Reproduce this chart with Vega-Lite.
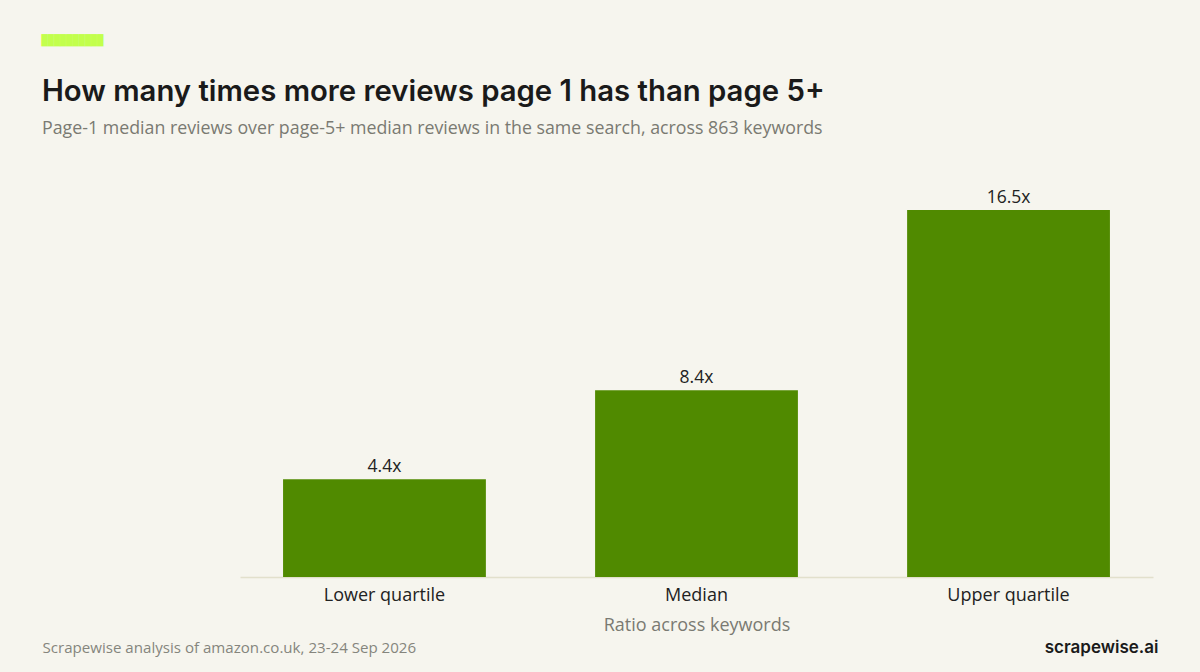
{
  "$schema": "https://vega.github.io/schema/vega-lite/v6.json",
  "description": "Ratio of page-1 to page-5+ median reviews across keywords.",
  "autosize": "none",
  "width": 913,
  "height": 407,
  "padding": {"left": 240, "top": 170, "right": 47, "bottom": 95},
  "background": "#f6f5ee",
  "title": {
    "text": "How many times more reviews page 1 has than page 5+",
    "subtitle": "Page-1 median reviews over page-5+ median reviews in the same search, across 863 keywords",
    "anchor": "start",
    "frame": "group",
    "dx": -198,
    "offset": -103,
    "font": "Inter",
    "fontSize": 29.3,
    "fontWeight": 600,
    "color": "#1a1a1a",
    "subtitleFont": "Open Sans",
    "subtitleFontSize": 17.8,
    "subtitleColor": "#7a7a72",
    "subtitlePadding": 13
  },
  "data": {
    "values": [
      {"stat": "Lower quartile", "ratio": 4.4, "label": "4.4x"},
      {"stat": "Median", "ratio": 8.4, "label": "8.4x"},
      {"stat": "Upper quartile", "ratio": 16.5, "label": "16.5x"}
    ]
  },
  "encoding": {
    "x": {
      "field": "stat",
      "type": "nominal",
      "sort": null,
      "scale": {"paddingInner": 0.35, "paddingOuter": 0.138}
    },
    "y": {
      "field": "ratio",
      "type": "quantitative",
      "scale": {"domain": [0, 18.3], "nice": false}
    }
  },
  "layer": [
    {
      "mark": {"type": "bar", "color": "#508a00"},
      "encoding": {
        "x": {
          "field": "stat",
          "type": "nominal",
          "sort": null,
          "axis": {
            "orient": "bottom",
            "title": "Ratio across keywords",
            "labelAngle": 0,
            "labelFont": "Open Sans",
            "labelFontSize": 18,
            "labelColor": "#222222",
            "labelPadding": 9,
            "ticks": false,
            "domainColor": "#e2e0cc",
            "domainWidth": 1.5,
            "titleFont": "Open Sans",
            "titleFontSize": 18,
            "titleFontWeight": "normal",
            "titleColor": "#7a7a72",
            "titlePadding": 12
          }
        },
        "y": {
          "field": "ratio",
          "type": "quantitative",
          "axis": {
            "orient": "left",
            "labels": false,
            "ticks": false,
            "domain": false,
            "grid": false,
            "title": "Scrapewise analysis of amazon.co.uk, 23-24 Sep 2026",
            "titleAngle": 0,
            "titleAlign": "left",
            "titleBaseline": "alphabetic",
            "titleX": -198,
            "titleY": 482,
            "titleFont": "Open Sans",
            "titleFontSize": 15.1,
            "titleFontWeight": "normal",
            "titleColor": "#85857d"
          }
        }
      }
    },
    {
      "mark": {"type": "text", "baseline": "bottom", "dy": -3, "font": "Open Sans", "fontSize": 17.5, "color": "#222222"},
      "encoding": {
        "text": {"field": "label"},
        "x": {
          "field": "stat",
          "type": "nominal",
          "sort": null,
          "axis": {
            "orient": "top",
            "labels": false,
            "ticks": false,
            "domain": false,
            "title": "██████████",
            "titleAlign": "left",
            "titleBaseline": "alphabetic",
            "titleX": -199,
            "titleY": -127,
            "titleFont": "DejaVu Sans Mono",
            "titleFontSize": 10.3,
            "titleFontWeight": "normal",
            "titleColor": "#c2ff4c"
          }
        },
        "y": {
          "field": "ratio",
          "type": "quantitative",
          "axis": {
            "orient": "right",
            "labels": false,
            "ticks": false,
            "domain": false,
            "grid": false,
            "title": "scrapewise.ai",
            "titleAngle": 0,
            "titleAlign": "right",
            "titleBaseline": "alphabetic",
            "titleX": 5,
            "titleY": 482,
            "titleFont": "Inter",
            "titleFontSize": 17,
            "titleFontWeight": 600,
            "titleColor": "#1a1a1a"
          }
        }
      }
    }
  ],
  "resolve": {"axis": {"x": "independent", "y": "independent"}},
  "config": {"view": {"stroke": null}}
}
